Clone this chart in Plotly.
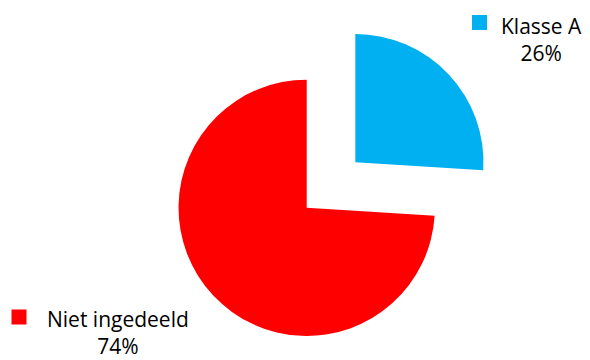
import plotly.graph_objects as go

categories = ["Klasse A", "Niet ingedeeld"]
values = [26, 74]
colors = ["#00B0F0", "#FF0000"]

total = sum(values)
pct = [f"{v / total * 100:.0f}%" for v in values]

# the page body has an 8px margin, so the figure fills the rest of the window
W, H = 582, 352

fig = go.Figure()
fig.add_trace(go.Pie(
    labels=categories,
    values=values,
    sort=False,
    direction="clockwise",
    rotation=0,
    pull=[0.26, 0.26],
    marker=dict(colors=colors, line=dict(width=0)),
    textinfo="none",
    hoverinfo="none",
    showlegend=False,
    domain=dict(x=[0.2775, 0.8325], y=[0.0384, 0.956]),
))

font = dict(family="Open Sans, Liberation Sans, sans-serif", size=21, color="#000000")

label_pos = [(533, 31), (110, 324)]
square_pos = [(471.5, 14.5), (11, 309)]
for cat, p, col, (lx, ly), (sx, sy) in zip(categories, pct, colors, label_pos, square_pos):
    fig.add_annotation(
        x=lx / W, y=1 - ly / H, xref="paper", yref="paper",
        text=f"{cat}<br>{p}", showarrow=False, align="center",
        xanchor="center", yanchor="middle", font=font,
    )
    fig.add_shape(
        type="rect", xref="paper", yref="paper",
        x0=(sx - 7.5) / W, x1=(sx + 7.5) / W,
        y0=1 - (sy + 7.5) / H, y1=1 - (sy - 7.5) / H,
        fillcolor=col, line=dict(width=0),
    )

fig.update_layout(
    width=W, height=H,
    margin=dict(l=0, r=0, t=0, b=0),
    paper_bgcolor="white", plot_bgcolor="white",
)

fig.write_html("out.html")
